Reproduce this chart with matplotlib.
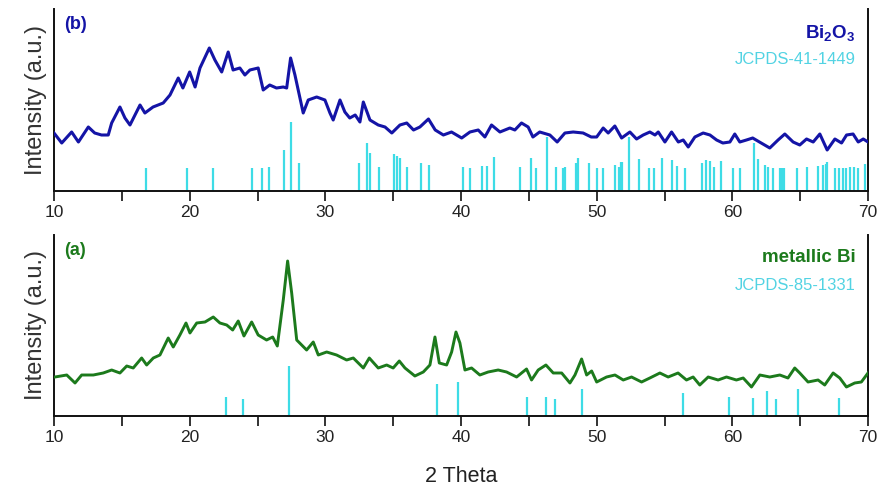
import matplotlib
matplotlib.use("Agg")
import matplotlib.pyplot as plt
from matplotlib.ticker import MultipleLocator

# ---------------- data ----------------
# (b) Bi2O3 pattern: 2theta, intensity (a.u.)
bi2o3_tt = [10.0, 10.57, 11.3, 11.8, 12.53, 13.0, 13.5, 14.0, 14.25, 14.86, 15.23, 15.6,
            16.34, 16.7, 17.3, 18.05, 18.55, 19.16, 19.5, 20.0, 20.4, 20.76, 21.45, 21.86,
            22.36, 22.84, 23.2, 23.7, 24.07, 24.44, 25.05, 25.42, 25.9, 26.4, 26.9, 27.15,
            27.44, 27.76, 28.37, 28.74, 29.36, 29.97, 30.34, 30.58, 31.08, 31.44, 31.8,
            32.2, 32.55, 32.8, 33.29, 33.9, 34.4, 34.9, 35.5, 36.0, 36.5, 36.97, 37.6,
            38.1, 38.7, 39.3, 40.05, 40.66, 41.27, 41.76, 42.25, 42.87, 43.6, 43.97,
            44.46, 44.95, 45.3, 45.8, 46.55, 47.09, 47.66, 48.27, 49.0, 49.6, 50.0,
            50.48, 50.85, 51.34, 51.84, 52.45, 52.94, 53.43, 53.92, 54.3, 54.54, 55.03,
            55.52, 56.02, 56.38, 56.75, 57.24, 57.85, 58.35, 58.84, 59.3, 59.82, 60.18,
            60.55, 61.04, 61.5, 62.0, 62.76, 63.37, 63.87, 64.48, 64.97, 65.47, 65.96,
            66.45, 66.99, 67.56, 68.05, 68.42, 68.9, 69.28, 69.65, 70.0]
bi2o3_int = [58, 48, 59, 49, 64, 58, 56, 56, 68, 84, 73, 66,
             86, 78, 84, 88, 96, 113, 103, 119, 104, 123, 143, 131,
             119, 139, 121, 123, 116, 121, 123, 101, 106, 103, 104, 103,
             133, 116, 78, 91, 94, 91, 78, 71, 91, 79, 73,
             76, 69, 89, 71, 66, 64, 58, 66, 68, 61, 64, 72,
             61, 56, 59, 53, 59, 61, 54, 66, 59, 63, 61,
             68, 64, 54, 59, 56, 49, 58, 59, 58, 54, 54,
             63, 58, 65, 53, 59, 52, 56, 59, 56, 59, 49,
             59, 49, 51, 44, 54, 58, 56, 51, 48, 49, 57,
             49, 51, 53, 49, 43, 51, 57, 49, 46, 52, 49,
             57, 41, 52, 48, 56, 57, 49, 52, 49]

# JCPDS-41-1449 reference lines
ref41_pos = [16.78, 19.78, 21.74, 24.56, 25.35, 25.82, 26.97, 27.44, 28.05, 32.5, 33.09,
             33.29, 33.98, 35.08, 35.3, 35.5, 35.99, 37.02, 37.66, 40.12, 40.66, 41.52,
             41.93, 42.43, 44.34, 45.13, 45.52, 46.31, 46.99, 47.53, 47.68, 48.47, 48.64,
             49.45, 50.04, 50.43, 51.34, 51.66, 51.83, 51.9, 52.4, 53.09, 53.87, 54.22,
             54.83, 55.52, 55.93, 56.5, 57.8, 58.05, 58.35, 58.64, 59.13, 60.02, 60.55,
             61.58, 61.9, 62.4, 62.64, 63.0, 63.5, 63.65, 63.8, 64.77, 65.47, 66.33, 66.7,
             66.9, 67.0, 67.6, 67.87, 68.16, 68.4, 68.7, 68.95, 69.28, 69.77]
ref41_int = [23, 23, 23, 23, 23, 24, 41, 69, 28, 28, 48,
             38, 24, 37, 35, 33, 24, 28, 26, 24, 23, 25,
             25, 34, 24, 33, 23, 54, 24, 23, 24, 28, 33,
             28, 23, 23, 26, 24, 29, 29, 54, 32, 23, 23,
             33, 31, 25, 23, 28, 31, 30, 24, 30, 23, 23,
             48, 32, 26, 24, 23, 23, 23, 23, 23, 24, 25, 26,
             27, 29, 23, 23, 23, 23, 24, 24, 23, 27]

# (a) metallic Bi pattern
bi_tt = [10.07, 10.94, 11.55, 12.04, 12.9, 13.63, 14.25, 14.86, 15.36, 15.84, 16.46, 16.83,
         17.32, 17.81, 18.42, 18.79, 19.28, 19.73, 20.02, 20.52, 21.13, 21.74, 22.23,
         22.73, 23.17, 23.58, 24.0, 24.57, 25.05, 25.67, 26.12, 26.46, 26.9, 27.22,
         27.52, 27.89, 28.62, 29.11, 29.48, 30.1, 30.83, 31.57, 32.06, 32.8, 33.24,
         33.9, 34.52, 35.0, 35.45, 35.87, 36.6, 37.22, 37.71, 38.08, 38.4, 38.94,
         39.31, 39.63, 39.92, 40.29, 40.78, 41.39, 42.0, 42.74, 43.36, 44.1, 44.83,
         45.2, 45.69, 46.26, 46.8, 47.42, 48.03, 48.4, 48.89, 49.26, 49.63, 50.0,
         50.73, 51.35, 51.96, 52.57, 53.31, 53.92, 54.66, 55.27, 56.0, 56.62, 57.11,
         57.6, 58.22, 58.95, 59.57, 60.3, 60.8, 61.41, 62.03, 62.76, 63.5, 64.1, 64.6,
         64.97, 65.58, 66.32, 66.81, 67.43, 67.92, 68.41, 69.02, 69.51, 70.0]
bi_int = [39, 41, 33, 41, 41, 43, 46, 43, 50, 48, 58, 51,
          58, 61, 78, 69, 81, 93, 83, 93, 94, 99, 93,
          91, 86, 95, 80, 94, 81, 76, 79, 70, 116, 155,
          123, 76, 66, 74, 61, 64, 61, 56, 58, 48, 58,
          48, 51, 48, 55, 48, 40, 44, 51, 79, 53, 51,
          64, 84, 73, 46, 48, 41, 44, 46, 44, 39, 47,
          36, 46, 51, 43, 43, 33, 41, 57, 41, 45, 34,
          39, 41, 36, 39, 34, 38, 43, 39, 43, 36, 39,
          31, 39, 36, 39, 36, 38, 29, 41, 39, 41, 38, 48,
          43, 34, 36, 31, 43, 38, 29, 33, 34, 43]

# JCPDS-85-1331 reference lines
ref85_pos = [22.65, 23.95, 27.34, 38.2, 39.79, 44.83, 46.24, 46.95, 48.94, 56.38,
             59.77, 61.49, 62.57, 63.21, 64.85, 67.87]
ref85_int = [19, 17, 50, 32, 34, 19, 19, 17, 27, 23,
             19, 18, 25, 17, 27, 18]

xticks = [10, 20, 30, 40, 50, 60, 70]

# ---------------- styling ----------------
BLUE = "#1414a6"
GREEN = "#1c7a1c"
CYAN = "#3edce6"
CYAN_TXT = "#52d3e3"
FONT = ["Liberation Sans Narrow", "Liberation Sans", "DejaVu Sans"]
FONT_R = ["Liberation Sans", "DejaVu Sans"]
plt.rcParams["font.family"] = FONT_R

fig = plt.figure(figsize=(8.86, 5.01), dpi=100)
ax_b = fig.add_axes([54 / 886, 1 - 191 / 501, 814 / 886, 182 / 501])
ax_a = fig.add_axes([54 / 886, 1 - 416 / 501, 814 / 886, 181 / 501])


def style(ax, ytop):
    ax.set_xlim(10, 70)
    ax.set_ylim(0, ytop)
    ax.spines["top"].set_visible(False)
    for s in ("left", "right", "bottom"):
        ax.spines[s].set_linewidth(1.4)
        ax.spines[s].set_color("#111111")
    ax.set_yticks([])
    ax.set_xticks(xticks)
    ax.xaxis.set_minor_locator(MultipleLocator(5))
    ax.tick_params(axis="x", which="both", direction="out", length=7, width=1.3,
                   color="#222222", labelsize=12.5, pad=3)
    for lab in ax.get_xticklabels():
        lab.set_family(FONT)
        lab.set_color("#222222")
    ax.set_ylabel("Intensity (a.u.)", fontsize=17, color="#333333", labelpad=5)


# (b) panel
ax_b.plot(bi2o3_tt, bi2o3_int, color=BLUE, lw=2.2, zorder=3, solid_joinstyle="round")
ax_b.vlines(ref41_pos, 0, ref41_int, color=CYAN, lw=1.6, zorder=2)
style(ax_b, 182)
ax_b.text(0.012, 0.96, "(b)", transform=ax_b.transAxes, color=BLUE, fontsize=13,
          fontweight="bold", va="top", ha="left")
ax_b.text(0.985, 0.92, r"Bi$_\mathregular{2}$O$_\mathregular{3}$", transform=ax_b.transAxes,
          color=BLUE, fontsize=13.5, fontweight="bold", va="top", ha="right")
ax_b.text(0.985, 0.765, "JCPDS-41-1449", transform=ax_b.transAxes, color=CYAN_TXT,
          fontsize=12, va="top", ha="right")

# (a) panel
ax_a.plot(bi_tt, bi_int, color=GREEN, lw=2.1, zorder=3, solid_joinstyle="round")
ax_a.vlines(ref85_pos, 0, ref85_int, color=CYAN, lw=1.6, zorder=2)
style(ax_a, 181)
ax_a.text(0.012, 0.96, "(a)", transform=ax_a.transAxes, color=GREEN, fontsize=13,
          fontweight="bold", va="top", ha="left")
ax_a.text(0.985, 0.92, "metallic Bi", transform=ax_a.transAxes, color=GREEN,
          fontsize=13.5, fontweight="bold", va="top", ha="right")
ax_a.text(0.985, 0.765, "JCPDS-85-1331", transform=ax_a.transAxes, color=CYAN_TXT,
          fontsize=12, va="top", ha="right")
ax_a.set_xlabel("2 Theta", fontsize=15.5, color="#222222", labelpad=15, family=FONT)

fig.savefig("out.png", dpi=100)
